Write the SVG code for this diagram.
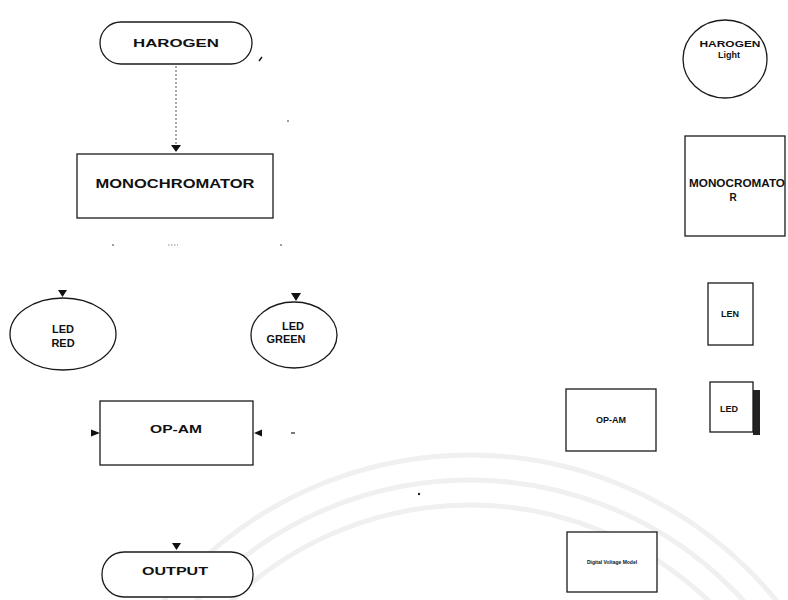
<svg xmlns="http://www.w3.org/2000/svg" width="788" height="600" viewBox="0 0 788 600">
<defs>
<style>
.s{fill:#fff;stroke:#1a1a1a;stroke-width:1.3}
.t{font-family:"Liberation Sans",Arial,sans-serif;font-weight:bold;fill:#111;text-anchor:middle}
.wm{fill:none;stroke:#f0f0f0;stroke-width:5}
.dot{fill:#222}
</style>
</defs>
<rect width="788" height="600" fill="#fff"/>
<g id="watermark">
<circle class="wm" cx="470" cy="850" r="395"/>
<circle class="wm" cx="470" cy="850" r="370"/>
<circle class="wm" cx="470" cy="850" r="345"/>
</g>
<g id="connectors">
<line x1="176" y1="66" x2="176" y2="146" stroke="#555" stroke-width="1" stroke-dasharray="2,2"/>
<path d="M171,145 L181,145 L176,152 z" fill="#111"/>
<path d="M58,290 L67,290 L62.5,297 z" fill="#111"/>
<path d="M291,293 L301,293 L296,301 z" fill="#111"/>
<path d="M172,543 L181,543 L176.5,550 z" fill="#111"/>
<path d="M100,433 L91,429.5 L91,436.5 z" fill="#111"/>
<path d="M254,433 L262,429.5 L262,436.5 z" fill="#111"/>
<line x1="291" y1="433" x2="295" y2="433" stroke="#222" stroke-width="1.2"/>
<circle class="dot" cx="113" cy="245" r="0.8"/>
<line x1="168" y1="245" x2="178" y2="245" stroke="#888" stroke-width="1" stroke-dasharray="1.5,1.5"/>
<circle class="dot" cx="281" cy="245" r="0.8"/>
<line x1="259" y1="61" x2="262" y2="57" stroke="#111" stroke-width="1.4"/>
<circle class="dot" cx="288" cy="121" r="0.8"/>
<circle class="dot" cx="419" cy="494" r="1.2"/>
</g>
<g id="harogen">
<rect class="s" x="100" y="22" width="152" height="42" rx="21"/>
<text class="t" x="176" y="47" font-size="10" textLength="86" lengthAdjust="spacingAndGlyphs">HAROGEN</text>
</g>
<g id="monochromator">
<rect class="s" x="77" y="154" width="196" height="64"/>
<text class="t" x="175" y="188" font-size="12" textLength="159" lengthAdjust="spacingAndGlyphs">MONOCHROMATOR</text>
</g>
<g id="led-red">
<ellipse class="s" cx="63" cy="334" rx="53" ry="36"/>
<text class="t" x="63" y="333" font-size="11">LED</text>
<text class="t" x="63" y="347" font-size="11">RED</text>
</g>
<g id="led-green">
<ellipse class="s" cx="294" cy="335" rx="43" ry="33"/>
<text class="t" x="293" y="330" font-size="11">LED</text>
<text class="t" x="286" y="343" font-size="11">GREEN</text>
</g>
<g id="op-am">
<rect class="s" x="100" y="401" width="153" height="64"/>
<text class="t" x="176" y="433" font-size="10" textLength="52" lengthAdjust="spacingAndGlyphs">OP-AM</text>
</g>
<g id="output">
<rect class="s" x="102" y="552" width="151" height="45" rx="22"/>
<text class="t" x="175" y="575" font-size="11" textLength="66" lengthAdjust="spacingAndGlyphs">OUTPUT</text>
</g>
<g id="harogen-light">
<ellipse class="s" cx="725" cy="59" rx="42" ry="39"/>
<text class="t" x="730" y="47" font-size="9" textLength="61" lengthAdjust="spacingAndGlyphs">HAROGEN</text>
<text class="t" x="729" y="58" font-size="9">Light</text>
</g>
<g id="monocromator-r">
<rect class="s" x="685" y="136" width="100" height="100"/>
<text class="t" x="737" y="187" font-size="10" textLength="96" lengthAdjust="spacingAndGlyphs">MONOCROMATO</text>
<text class="t" x="733" y="201" font-size="10">R</text>
</g>
<g id="len">
<rect class="s" x="708" y="283" width="45" height="62"/>
<text class="t" x="730" y="317" font-size="9">LEN</text>
</g>
<g id="led">
<rect x="753" y="390" width="7" height="45" fill="#222"/>
<rect class="s" x="710" y="382" width="43" height="50"/>
<text class="t" x="729" y="412" font-size="9">LED</text>
</g>
<g id="op-am-r">
<rect class="s" x="566" y="389" width="90" height="62"/>
<text class="t" x="611" y="423" font-size="9">OP-AM</text>
</g>
<g id="dvm">
<rect class="s" x="567" y="532" width="90" height="60"/>
<text class="t" x="612" y="564" font-size="5">Digital Voltage Model</text>
</g>
</svg>
